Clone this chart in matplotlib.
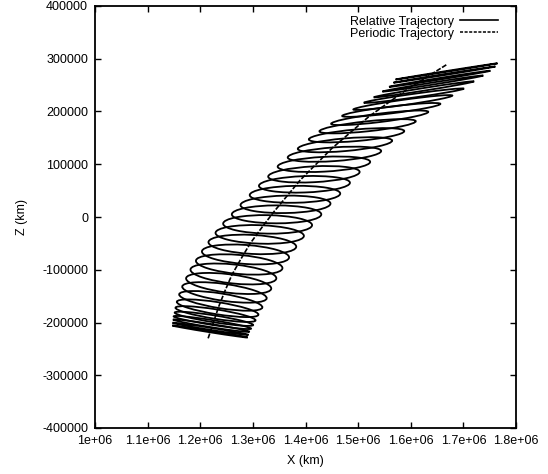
import matplotlib
matplotlib.use("Agg")
import matplotlib.pyplot as plt
from matplotlib.patches import Ellipse
from matplotlib.lines import Line2D

plt.rcParams['font.family'] = ['Liberation Sans', 'DejaVu Sans']

# periodic trajectory (km)
per_x = [1.215e6, 1.225e6, 1.235e6, 1.247e6, 1.26e6, 1.277e6, 1.295e6, 1.317e6,
         1.34e6, 1.365e6, 1.39e6, 1.42e6, 1.45e6, 1.485e6, 1.52e6, 1.555e6,
         1.59e6, 1.63e6, 1.67e6]
per_z = [-230000, -200000, -170000, -140000, -110000, -80000, -50000, -20000,
         10000, 40000, 70000, 100000, 130000, 160000, 190000, 215000,
         240000, 265000, 290000]

# relative trajectory: one ellipse per revolution (centre, full width, full height, tilt)
loop_x = [1.2185e6, 1.2195e6, 1.221e6, 1.223e6, 1.226e6, 1.229e6, 1.233e6, 1.239e6,
          1.246e6, 1.254e6, 1.263e6, 1.274e6, 1.286e6, 1.299e6, 1.313e6, 1.328e6,
          1.345e6, 1.362e6, 1.380e6, 1.398e6, 1.416e6, 1.435e6, 1.455e6, 1.475e6,
          1.497e6, 1.518e6, 1.541e6, 1.563e6, 1.585e6, 1.606e6, 1.625e6, 1.642e6,
          1.655e6, 1.664e6, 1.668e6]
loop_z = [-217000, -212000, -206000, -200000, -193000, -184000, -173000, -159000,
          -143000, -126000, -108000, -90000, -71000, -52000, -33000, -14000,
          5000, 24000, 43000, 62000, 81000, 100000, 119000, 137000,
          155000, 172000, 188000, 203000, 217000, 230000, 242000, 253000,
          262000, 270000, 276000]
loop_w = [145000, 146000, 147000, 149000, 151000, 154000, 157000, 160000,
          162000, 163000, 164000, 165000, 166000, 167000, 168000, 169000,
          170000, 171000, 172000, 173000, 174000, 176000, 178000, 180000,
          182000, 184000, 186000, 188000, 190000, 192000, 193000, 194000,
          195000, 196000, 196000]
loop_h = [3000, 4000, 6000, 9000, 13000, 18000, 23000, 28000,
          32000, 35000, 36000, 36000, 36000, 36000, 35000, 35000,
          34000, 33000, 32000, 31000, 30000, 28000, 26000, 24000,
          22000, 19000, 16000, 13000, 10000, 7000, 5000, 4000,
          3000, 2000, 1500]
loop_tilt = [-9, -9, -9, -9, -9, -9, -9, -9,
             -8, -7, -6, -5, -4, -3, -2, -1,
             0, 1, 1, 2, 3, 3, 4, 5,
             5, 6, 7, 7, 8, 8, 9, 9,
             9, 9, 9]

x_ticks = [1.0e6, 1.1e6, 1.2e6, 1.3e6, 1.4e6, 1.5e6, 1.6e6, 1.7e6, 1.8e6]
x_labels = ['1e+06', '1.1e+06', '1.2e+06', '1.3e+06', '1.4e+06', '1.5e+06',
            '1.6e+06', '1.7e+06', '1.8e+06']
z_ticks = [-400000, -300000, -200000, -100000, 0, 100000, 200000, 300000, 400000]
z_labels = ['-400000', '-300000', '-200000', '-100000', '0', '100000', '200000',
            '300000', '400000']

fig = plt.figure(figsize=(5.48, 4.74), dpi=100)
ax = fig.add_axes([95 / 548, 46 / 474, 421 / 548, 422 / 474])

for x, z, w, h, t in zip(loop_x, loop_z, loop_w, loop_h, loop_tilt):
    ax.add_patch(Ellipse((x, z), w, h, angle=t, fill=False, edgecolor='black', lw=1.3))

ax.plot(per_x, per_z, color='black', lw=1.2, dashes=(3, 1))

ax.set_xlim(1.0e6, 1.8e6)
ax.set_ylim(-400000, 400000)
ax.set_xticks(x_ticks)
ax.set_xticklabels(x_labels)
ax.set_yticks(z_ticks)
ax.set_yticklabels(z_labels)
ax.tick_params(direction='in', length=4, width=1, top=True, right=True,
               labelsize=9, pad=5)
for s in ax.spines.values():
    s.set_linewidth(1.3)

ax.set_xlabel('X (km)', fontsize=9, labelpad=6)
ax.set_ylabel('Z (km)', fontsize=9, labelpad=10)

handles = [Line2D([], [], color='black', lw=1.2),
           Line2D([], [], color='black', lw=1.1, dashes=(2, 1))]
ax.legend(handles, ['Relative Trajectory', 'Periodic Trajectory'], loc='upper right',
          bbox_to_anchor=(0.975, 0.995), frameon=False, markerfirst=False,
          fontsize=9, handlelength=3.0, handletextpad=0.55, labelspacing=0.0,
          borderaxespad=0.2)

fig.savefig('out.png', dpi=100)
